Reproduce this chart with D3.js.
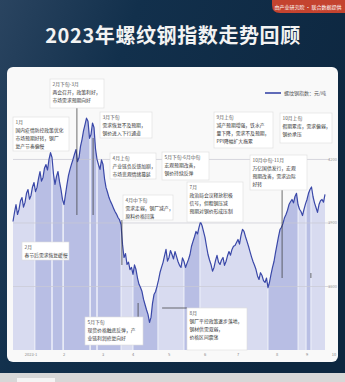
<!DOCTYPE html>
<html>
<head>
<meta charset="utf-8">
<title>2023年螺纹钢指数走势回顾</title>
<script src="https://d3js.org/d3.v7.min.js"></script>
<style>
  body { margin: 0; background: #0f2740; }
  svg { display: block; font-family: "Noto Sans CJK SC", "Noto Sans", sans-serif; }
</style>
</head>
<body>
<div id="chart"></div>
<script>
// 螺纹钢指数（元/吨），约每 1-2 个交易日一个点
const rebarIndex = [
  3907, 3950, 3987, 3940, 3964, 4005, 4020, 3975, 3997, 4040,
  4058, 4012, 4030, 4070, 4091, 4048, 4068, 4110, 4143, 4098,
  4115, 4160, 4176, 4150, 4200, 4232, 4209, 4130, 4082, 4120,
  4143, 4095, 4058, 4010, 3987, 4035, 4082, 4125, 4153, 4178,
  4200, 4225, 4247, 4190, 4209, 4262, 4294, 4335, 4365, 4395,
  4380, 4300, 4318, 4372, 4351, 4250, 4200, 4175, 4153, 4198,
  4176, 4110, 4068, 4045, 4020, 4002, 3987, 3970, 3954, 3942,
  3926, 3915, 3893, 3800, 3737, 3755, 3704, 3715, 3680, 3690,
  3657, 3702, 3680, 3640, 3610, 3595, 3576, 3540, 3515, 3490,
  3468, 3430, 3454, 3520, 3562, 3575, 3600, 3630, 3666, 3690,
  3713, 3745, 3775, 3720, 3737, 3770, 3751, 3730, 3765, 3742,
  3718, 3700, 3690, 3735, 3718, 3690, 3709, 3728, 3751, 3790,
  3813, 3835, 3860, 3848, 3879, 3905, 3888, 3860, 3832, 3790,
  3751, 3725, 3704, 3672, 3690, 3722, 3747, 3715, 3704, 3725,
  3737, 3700, 3718, 3745, 3765, 3748, 3775, 3790, 3794, 3808,
  3822, 3800, 3841, 3870, 3860, 3835, 3813, 3790, 3765, 3740,
  3718, 3700, 3680, 3650, 3633, 3665, 3652, 3628, 3619, 3640,
  3595, 3620, 3657, 3690, 3718, 3760, 3798, 3835, 3869, 3880,
  3898, 3925, 3940, 3960, 3987, 4000, 4011, 3995, 4025, 4040,
  3987, 3965, 3954, 3935, 3964, 3990, 4011, 4040, 4058, 4070,
  4025, 3995, 3973, 3950, 3987, 4005, 4011, 3998, 4035
];

// x 轴标签及其所在的数据序号
const tickLabels = ["2023-1", "2", "3", "4", "5", "6", "7", "8", "9", "10"];
const tickIndex = [12, 34, 60, 80, 104, 128, 150, 176, 196, 214];

const gridValues = [3600, 3900, 4200];

// 重点时段（数据序号区间）
const bandStart = [14.6, 26, 33.4, 51.4, 56, 80, 114, 170, 195.4];
const bandEnd = [26, 33.4, 51.4, 56, 72, 96.6, 124.6, 190, 198.6];

// 注释
const annoTitles = ["1月", "2月下旬-3月", "3月下旬", "4月上旬", "5月下旬-6月中旬", "4月中下旬",
  "7月", "9月上旬", "10月上旬", "10月中旬-11月", "2月", "5月下旬", "8月"];
const annoTexts = [
  ["国内疫情防控政策优化", "市场预期好转，钢厂", "复产节奏偏慢"],
  ["两会召开，政策利好，", "市场需求预期向好"],
  ["需求恢复不及预期，", "钢价进入下行通道"],
  ["产业链负反馈加剧，", "市场悲观情绪蔓延"],
  ["宏观预期改善，", "钢价持续反弹"],
  ["需求走弱，钢厂减产，", "原料价格回落"],
  ["政治局会议释放积极", "信号，但粗钢压减", "预期对钢价形成压制"],
  ["减产预期增强，铁水产", "量下降，需求不及预期，", "PPI降幅扩大拖累"],
  ["假期累库，需求偏弱，", "钢价承压"],
  ["万亿国债发行，宏观", "预期改善，需求边际", "好转"],
  ["春节后需求恢复缓慢"],
  ["现货价格触底反弹，产", "业链利润修复向好"],
  ["钢厂平控政策逐步落地，", "钢材供需双弱，", "价格区间震荡"]
];

// 版式
const W = 345, H = 382;
const boxLayout = [
  [13, 117, 56, 34], [50, 79, 54, 29], [100, 112, 52, 26], [110, 153, 46, 26],
  [162, 152, 47, 28], [123, 195, 50, 25], [187, 182, 56, 40], [214, 112, 59, 36],
  [280, 113, 52, 30], [250, 155, 57, 35], [22, 242, 47, 18], [85, 317, 58, 28],
  [187, 308, 60, 42]
];
const connectors = [ // [数据序号, y1, y2]
  [42.6, 107, 215], [53.4, 138, 215], [72.6, 220, 265], [179.4, 190, 278],
  [83.4, 303, 317], [198.6, 273, 278]
];

const svg = d3.select("#chart").append("svg")
  .attr("width", W).attr("height", H);

const defs = svg.append("defs");
const bg = defs.append("linearGradient").attr("id", "bg")
  .attr("x1", 0).attr("y1", 0).attr("x2", 1).attr("y2", 0.4);
bg.append("stop").attr("offset", 0).attr("stop-color", "#2a4460");
bg.append("stop").attr("offset", 0.35).attr("stop-color", "#12304c");
bg.append("stop").attr("offset", 1).attr("stop-color", "#0d2740");

// 背景
svg.append("rect").attr("width", W).attr("height", H).attr("fill", "url(#bg)");
svg.append("rect").attr("y", 373).attr("width", W).attr("height", 9).attr("fill", "#d7d7d7");
svg.append("rect").attr("x", 17).attr("y", 378).attr("width", 38).attr("height", 4).attr("fill", "#f4f4f4");

// 右上角标签
svg.append("path")
  .attr("d", "M272,0 H345 V13 H280 Q272,13 272,5 Z")
  .attr("fill", "#c4432f");
svg.append("text").attr("x", 308).attr("y", 9)
  .attr("text-anchor", "middle").attr("fill", "#fff")
  .attr("font-size", 5).text("由产业研究院 · 联合数据提供");

// 标题
svg.append("text").attr("x", 173).attr("y", 43)
  .attr("text-anchor", "middle").attr("fill", "#f3f3f3")
  .attr("font-size", 20).attr("font-weight", 700).attr("letter-spacing", 0.6)
  .text("2023年螺纹钢指数走势回顾");

// 卡片
svg.append("rect").attr("x", 7).attr("y", 67).attr("width", 331).attr("height", 295)
  .attr("rx", 6).attr("fill", "#f9f9f9");

// 比例尺
const x = d3.scaleLinear().domain([0, 214]).range([13, 334]);
const y = d3.scaleLinear().domain([3300, 4580]).range([350, 79]);

const area = d3.area()
  .x((d, i) => x(i)).y0(y(3300)).y1(d => y(d));
const line = d3.line()
  .x((d, i) => x(i)).y(d => y(d));

defs.append("clipPath").attr("id", "areaClip")
  .append("path").attr("d", area(rebarIndex));

svg.append("path").attr("d", area(rebarIndex)).attr("fill", "#d8dbf0");

const bands = svg.append("g").attr("clip-path", "url(#areaClip)");
bands.selectAll("rect").data(bandStart).join("rect")
  .attr("x", d => x(d))
  .attr("width", (d, i) => x(bandEnd[i]) - x(d))
  .attr("y", 70).attr("height", 290)
  .attr("fill", "#b8bee4");
bands.selectAll("line").data(bandStart.concat(bandEnd)).join("line")
  .attr("x1", d => x(d)).attr("x2", d => x(d))
  .attr("y1", 70).attr("y2", 360)
  .attr("stroke", "#fff").attr("stroke-width", 0.8).attr("opacity", 0.9);

// 网格线
svg.append("g").selectAll("line").data(gridValues).join("line")
  .attr("x1", 13).attr("x2", 330)
  .attr("y1", d => y(d)).attr("y2", d => y(d))
  .attr("stroke", "#c9c9d2").attr("stroke-width", 0.7);
svg.append("g").selectAll("text").data(gridValues).join("text")
  .attr("x", 337).attr("y", d => y(d) + 1.5)
  .attr("text-anchor", "end").attr("font-size", 4).attr("fill", "#999")
  .text(d => d);

// x 轴
svg.append("g").selectAll("text").data(tickIndex).join("text")
  .attr("x", d => x(d)).attr("y", 356)
  .attr("text-anchor", "middle").attr("font-size", 4).attr("fill", "#888")
  .text((d, i) => tickLabels[i]);

// 折线
svg.append("path").attr("d", line(rebarIndex))
  .attr("fill", "none").attr("stroke", "#3a48a8")
  .attr("stroke-width", 1.2).attr("stroke-linejoin", "round");

// 引线
svg.append("g").selectAll("line").data(connectors).join("line")
  .attr("x1", d => x(d[0])).attr("x2", d => x(d[0]))
  .attr("y1", d => d[1]).attr("y2", d => d[2])
  .attr("stroke", "#333").attr("stroke-width", 0.7);
svg.append("line").attr("x1", x(99.4)).attr("x2", 187).attr("y1", 308).attr("y2", 308)
  .attr("stroke", "#333").attr("stroke-width", 0.7);

// 图例
svg.append("line").attr("x1", 265).attr("x2", 281).attr("y1", 93).attr("y2", 93)
  .attr("stroke", "#3a48a8").attr("stroke-width", 1.6);
svg.append("text").attr("x", 284).attr("y", 95).attr("font-size", 5).attr("fill", "#555")
  .text("螺纹钢指数：元/吨");

// 注释框
const boxes = svg.append("g").selectAll("g").data(annoTitles).join("g")
  .attr("transform", (d, i) => `translate(${boxLayout[i][0]},${boxLayout[i][1]})`);
boxes.append("rect")
  .attr("width", (d, i) => boxLayout[i][2]).attr("height", (d, i) => boxLayout[i][3])
  .attr("fill", "#fff").attr("stroke", "#dcdcdc").attr("stroke-width", 0.6);
boxes.append("text").attr("x", 2.5).attr("y", 7)
  .attr("font-size", 4.8).attr("fill", "#555").text(d => d);
boxes.each(function (d, i) {
  d3.select(this).selectAll("text.body").data(annoTexts[i]).join("text")
    .attr("class", "body").attr("x", 2.5).attr("y", (t, j) => 15 + j * 8)
    .attr("font-size", 4.8).attr("fill", "#333").text(t => t);
});
</script>
</body>
</html>
